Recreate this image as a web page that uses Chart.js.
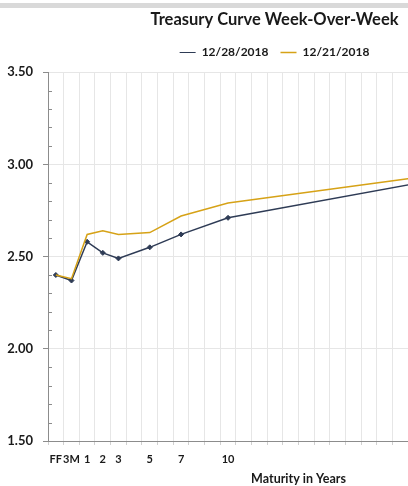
<!DOCTYPE html>
<html>
<head>
<meta charset="utf-8">
<script src="https://cdn.jsdelivr.net/npm/chart.js@4.4.1/dist/chart.umd.min.js"></script>
<style>
  html, body { margin: 0; padding: 0; background: #fff; overflow: hidden; }
  #wrap { position: relative; width: 408px; height: 486px; overflow: hidden; }
  #band { position: absolute; left: 0; top: 3px; width: 408px; height: 5px; background: #d9d9d9; }
  #c { position: absolute; left: 0; top: 0; }
</style>
</head>
<body>
<div id="wrap">
  <canvas id="c" width="562" height="486"></canvas>
  <div id="band"></div>
</div>
<script>
// axis slots: FF, 3M, then one slot per year out to 30
const slots = ['FF', '3M', '1', '2', '3', '4', '5', '6', '7', '8', '9', '10',
  '11', '12', '13', '14', '15', '16', '17', '18', '19', '20',
  '21', '22', '23', '24', '25', '26', '27', '28', '29', '30'];
const shownTicks = ['FF', '3M', '1', '2', '3', '5', '7', '10'];

const maturities = ['FF', '3M', '1', '2', '3', '5', '7', '10', '30'];
const yields1228 = [2.40, 2.37, 2.58, 2.52, 2.49, 2.55, 2.62, 2.71, 3.02];
const yields1221 = [2.40, 2.38, 2.62, 2.64, 2.62, 2.63, 2.72, 2.79, 3.02];

const NAVY = '#2e3b55';
const GOLD = '#d6a217';
const FONT = 'Lato, "Open Sans", sans-serif';

function toSlots(vals) {
  const out = slots.map(() => null);
  maturities.forEach((m, i) => { out[slots.indexOf(m)] = vals[i]; });
  return out;
}

const isMajor = v => Math.round(v * 10) % 5 === 0;

// excel-style minor ticks pointing into the plot
const minorTicks = {
  id: 'minorTicks',
  afterDraw(chart) {
    const y = chart.scales.y;
    const ctx = chart.ctx;
    ctx.save();
    ctx.strokeStyle = '#8c8c8c';
    ctx.lineWidth = 1;
    y.ticks.forEach(t => {
      if (isMajor(t.value)) return;
      const py = Math.round(y.getPixelForValue(t.value)) + 0.5;
      ctx.beginPath();
      ctx.moveTo(y.right, py);
      ctx.lineTo(y.right + 4, py);
      ctx.stroke();
    });
    ctx.restore();
  }
};

new Chart(document.getElementById('c'), {
  type: 'line',
  data: {
    labels: slots,
    datasets: [
      {
        label: '12/28/2018',
        data: toSlots(yields1228),
        borderColor: NAVY,
        backgroundColor: NAVY,
        borderWidth: 1.5,
        pointStyle: 'rectRot',
        pointRadius: 2.5,
        pointBorderWidth: 1,
        spanGaps: true,
        tension: 0,
        order: 1
      },
      {
        label: '12/21/2018',
        data: toSlots(yields1221),
        borderColor: GOLD,
        backgroundColor: GOLD,
        borderWidth: 1.5,
        pointRadius: 0,
        spanGaps: true,
        tension: 0,
        order: 0
      }
    ]
  },
  options: {
    responsive: false,
    animation: false,
    devicePixelRatio: 1,
    layout: { padding: { top: 0, right: 13, bottom: 0, left: 0 } },
    plugins: {
      title: {
        display: true,
        text: 'Treasury Curve Week-Over-Week',
        color: '#1a1a1a',
        font: { family: FONT, size: 16.5, weight: 'bold' },
        padding: { top: 10, bottom: 4.7 }
      },
      // spacer between legend and plot
      subtitle: {
        display: true,
        text: '',
        weight: 500,
        font: { size: 3 },
        padding: 0
      },
      legend: {
        position: 'top',
        labels: {
          usePointStyle: true,
          pointStyle: 'line',
          pointStyleWidth: 16,
          padding: 12,
          color: '#1a1a1a',
          font: { family: FONT, size: 12, weight: 'bold' },
          sort: (a, b) => a.datasetIndex - b.datasetIndex
        }
      },
      tooltip: { enabled: false }
    },
    scales: {
      x: {
        type: 'category',
        offset: true,
        afterFit: s => { s.height = 45; },
        grid: { offset: true, color: '#e6e6e6', tickColor: '#d0d0d0', tickLength: 4 },
        border: { color: '#8c8c8c' },
        ticks: {
          autoSkip: false,
          maxRotation: 0,
          padding: 8,
          color: '#1a1a1a',
          font: { family: FONT, size: 11, weight: 'bold' },
          callback(v) {
            const l = this.getLabelForValue(v);
            return shownTicks.includes(l) ? l : '';
          }
        },
        title: {
          display: true,
          text: 'Maturity in Years',
          color: '#1a1a1a',
          font: { family: FONT, size: 12.5, weight: 'bold' },
          padding: { top: 0, bottom: 0 }
        }
      },
      y: {
        min: 1.5,
        max: 3.5,
        afterFit: s => { s.width = 48; },
        grid: {
          color: c => (c.tick && isMajor(c.tick.value)) ? '#e6e6e6' : 'rgba(0,0,0,0)',
          tickColor: c => (c.tick && isMajor(c.tick.value)) ? '#8c8c8c' : 'rgba(0,0,0,0)',
          tickLength: 5
        },
        border: { color: '#8c8c8c' },
        ticks: {
          stepSize: 0.1,
          autoSkip: false,
          padding: 10,
          color: '#1a1a1a',
          font: { family: FONT, size: 13, weight: 'bold' },
          callback: v => isMajor(v) ? v.toFixed(2) : ''
        }
      }
    }
  },
  plugins: [minorTicks]
});
</script>
</body>
</html>
